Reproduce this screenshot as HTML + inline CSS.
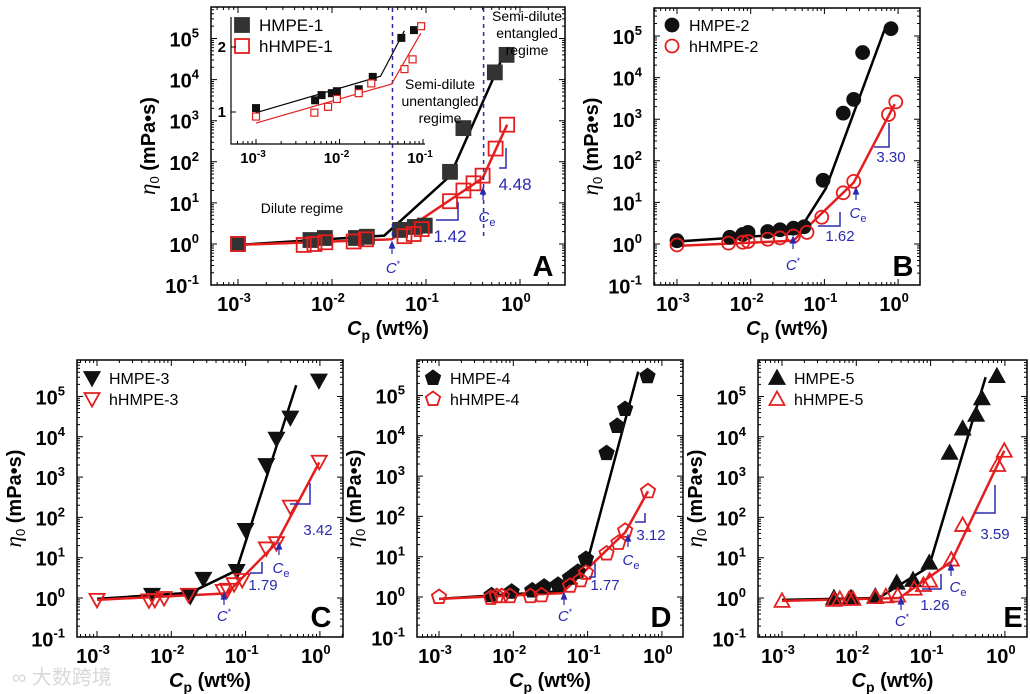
<!DOCTYPE html>
<html><head><meta charset="utf-8"><style>
html,body{margin:0;padding:0;background:#fff;width:1030px;height:694px;overflow:hidden}
svg{display:block;font-family:"Liberation Sans",Arial,sans-serif}
</style></head><body>
<svg id="fig" width="1030" height="694" viewBox="0 0 1030 694" xmlns="http://www.w3.org/2000/svg"></svg>
<script>
// ---- Panel A data ----
const aBlackX=[0.001,0.0059,0.0084,0.018,0.0235,0.053,0.076,0.097,0.18,0.25,0.54,0.72];
const aBlackY=[1.0,1.25,1.4,1.4,1.5,2.2,2.6,2.8,57,660,15000,40000];
const aRedX=[0.001,0.005,0.0065,0.0085,0.017,0.023,0.059,0.074,0.09,0.18,0.25,0.32,0.40,0.55,0.73];
const aRedY=[1.0,0.95,1.0,1.1,1.15,1.3,1.55,1.75,2.3,11,20,30,46,210,800];
const aBlackFitX=[0.001,0.036,0.18,0.7];
const aBlackFitY=[0.95,1.6,45,50000];
const aRedFitX=[0.001,0.043,0.4,0.73];
const aRedFitY=[0.95,1.3,40,800];
// inset (panel A)
const insBlackX=[0.001,0.0051,0.0061,0.0081,0.0093,0.017,0.025,0.055,0.078];
const insBlackY=[1.06,1.18,1.26,1.29,1.32,1.35,1.54,2.14,2.26];
const insRedX=[0.001,0.005,0.0073,0.0093,0.017,0.024,0.06,0.075,0.095];
const insRedY=[0.93,0.99,1.08,1.2,1.29,1.44,1.66,1.81,2.32];
const insBlackFitX=[0.001,0.031,0.06];
const insBlackFitY=[0.99,1.55,2.25];
const insRedFitX=[0.001,0.042,0.094];
const insRedFitY=[0.83,1.43,2.21];
// ---- Panel B ----
const bBlackX=[0.001,0.0052,0.0078,0.0092,0.017,0.025,0.038,0.053,0.096,0.18,0.25,0.33,0.8];
const bBlackY=[1.2,1.45,1.7,1.9,2.0,2.2,2.4,2.6,34,1400,3000,40000,150000];
const bRedX=[0.001,0.005,0.0078,0.0092,0.017,0.025,0.038,0.058,0.092,0.18,0.25,0.74,0.93];
const bRedY=[0.95,1.05,1.1,1.15,1.3,1.4,1.55,1.9,4.4,17,32,1300,2600];
const bBlackFitX=[0.001,0.043,0.105,0.68];
const bBlackFitY=[1.15,1.8,22,170000];
const bRedFitX=[0.001,0.038,0.25,0.9];
const bRedFitY=[0.9,1.2,30,2300];
// ---- Panel C ----
const cBlackX=[0.0055,0.018,0.027,0.076,0.1,0.19,0.26,0.4,0.97];
const cBlackY=[1.2,1.1,3,4.7,49,2000,9000,30000,250000];
const cRedX=[0.001,0.005,0.006,0.008,0.017,0.05,0.057,0.07,0.09,0.19,0.26,0.4,0.98];
const cRedY=[0.9,0.87,0.9,1.0,1.2,1.5,1.6,2.2,2.8,17,23,185,2400];
const cBlackFitX=[0.001,0.018,0.075,0.48];
const cBlackFitY=[0.95,1.35,4.8,190000];
const cRedFitX=[0.001,0.056,0.26,0.98];
const cRedFitY=[0.9,1.3,23,2300];
// ---- Panel D ----
const dBlackX=[0.0051,0.0095,0.018,0.026,0.04,0.058,0.074,0.095,0.18,0.25,0.32,0.64];
const dBlackY=[1.1,1.35,1.45,1.8,2.0,3.0,4.2,8.8,3700,17500,46000,300000];
const dRedX=[0.001,0.005,0.006,0.007,0.009,0.017,0.024,0.058,0.08,0.095,0.18,0.26,0.32,0.65];
const dRedY=[1.0,0.95,1.05,1.05,1.05,1.05,1.1,1.9,2.6,4,12,22,44,420];
const dBlackFitX=[0.001,0.045,0.1,0.48];
const dBlackFitY=[0.9,1.4,8,390000];
const dRedFitX=[0.001,0.045,0.32,0.65];
const dRedFitY=[0.9,1.25,40,420];
// ---- Panel E ----
const eBlackX=[0.005,0.0085,0.018,0.035,0.058,0.096,0.18,0.27,0.41,0.49,0.78];
const eBlackY=[1.0,1.0,1.1,2.4,2.8,7.5,4000,16000,35000,90000,320000];
const eRedX=[0.001,0.005,0.006,0.008,0.009,0.018,0.025,0.036,0.06,0.08,0.097,0.19,0.27,0.8,0.98];
const eRedY=[0.85,0.9,0.95,0.95,0.95,1.05,1.1,1.15,1.7,2.1,2.7,9,65,2000,4500];
const eBlackFitX=[0.001,0.02,0.095,0.55];
const eBlackFitY=[0.9,1.0,6,300000];
const eRedFitX=[0.001,0.038,0.19,0.98];
const eRedFitY=[0.85,1.0,8,4500];

const xTickExp=[-3,-2,-1,0];
const yTickExp=[-1,0,1,2,3,4,5];

const NS="http://www.w3.org/2000/svg";
const svg=document.getElementById('fig');
const BLUE="#2a2ab0", RED="#e41e1e";
function mk(tag,attrs,parent){const e=document.createElementNS(NS,tag);for(const k in attrs)e.setAttribute(k,attrs[k]);(parent||svg).appendChild(e);return e;}

function panel(cfg){
  const g=mk('g',{});
  
  
  const [L,T,R,B]=cfg.frame;
  const sx=v=>cfg.x0+(Math.log10(v)+3)*cfg.dx;
  const sy=v=>cfg.y0-Math.log10(v)*cfg.dy;
  const fr=mk('rect',{x:L,y:T,width:R-L,height:B-T,fill:'none',stroke:'#000','stroke-width':1.5},g);
  
  
  let tp='';
  for(let d=-4;d<=1;d++)for(let k=1;k<=9;k++){
    const x=cfg.x0+(d+3+Math.log10(k))*cfg.dx; if(x<=L+0.5||x>=R-0.5)continue;
    const l=k==1?6:3; tp+=`M${x},${B}v${-l}M${x},${T}v${l}`;
  }
  for(let d=-2;d<=6;d++)for(let k=1;k<=9;k++){
    const y=cfg.y0-(d+Math.log10(k))*cfg.dy; if(y<=T+0.5||y>=B-0.5)continue;
    const l=k==1?6:3; tp+=`M${L},${y}h${l}M${R},${y}h${-l}`;
  }
  const tk=mk('path',{d:tp,stroke:'#000','stroke-width':1,fill:'none'},g);
  
  
  xTickExp.forEach(e=>{
    const t=mk('text',{x:cfg.x0+(e+3)*cfg.dx-4,y:B+26,'text-anchor':'middle','font-size':20,'font-weight':'bold'},g);
    t.innerHTML=`10<tspan dy="-9" font-size="13">${e}</tspan>`;
    
    
  });
  yTickExp.forEach(e=>{
    const y=cfg.y0-e*cfg.dy; if(y<T)return;
    const t=mk('text',{x:L-12,y:y+8,'text-anchor':'end','font-size':20,'font-weight':'bold'},g);
    t.innerHTML=`10<tspan dy="-9" font-size="13">${e}</tspan>`;
    
    
  });
  const xt=mk('text',{x:(L+R)/2,y:B+50,'text-anchor':'middle','font-size':20,'font-weight':'bold'},g);
  xt.innerHTML='<tspan font-style="italic">C</tspan><tspan dy="5" font-size="14">p</tspan><tspan dy="-5"> (wt%)</tspan>';
  
  
  const yc=(T+B)/2, yx=L-56;
  const yt=mk('text',{x:yx,y:yc,'text-anchor':'middle','font-size':20,'font-weight':'bold',transform:`rotate(-90 ${yx} ${yc})`},g);
  yt.innerHTML='<tspan font-style="italic" font-weight="normal" font-family="Liberation Serif,serif" font-size="23">η</tspan><tspan dy="4" font-size="13" font-weight="normal">0</tspan><tspan dy="-4"> (mPa•s)</tspan>';
  
  
  const line=(xs,ys,col,name)=>{
    const p=mk('polyline',{points:xs.map((x,i)=>sx(x)+','+sy(ys[i])).join(' '),fill:'none',stroke:col,'stroke-width':2.5},g);
    
    
  };
  line(cfg.bfx,cfg.bfy,'#000','fit-line-'+cfg.bname);
  line(cfg.rfx,cfg.rfy,RED,'fit-line-'+cfg.rname);
  cfg.bx.forEach((x,i)=>marker(g,cfg.shape,sx(x),sy(cfg.by[i]),true,cfg.ms,'marker-'+cfg.bname));
  cfg.rx.forEach((x,i)=>marker(g,cfg.shape,sx(x),sy(cfg.ry[i]),false,cfg.ms,'marker-'+cfg.rname));
  const lx=cfg.leg[0],ly=cfg.leg[1];
  marker(g,cfg.shape,lx,ly,true,cfg.ms,'legend-marker-'+cfg.bname);
  marker(g,cfg.shape,lx,ly+21,false,cfg.ms,'legend-marker-'+cfg.rname);
  const l1=mk('text',{x:lx+17,y:ly+6,'font-size':cfg.lfs||16},g);l1.textContent=cfg.bname;
  
  
  const l2=mk('text',{x:lx+17,y:ly+27,'font-size':cfg.lfs||16},g);l2.textContent=cfg.rname;
  
  
  const pl=mk('text',{x:cfg.lab[0],y:cfg.lab[1],'text-anchor':'middle','font-size':29,'font-weight':'bold'},g);
  pl.textContent=cfg.id;
  
  
  cfg.slopes.forEach(s=>{
    const p=mk('path',{d:`M${s[0]},${s[3]}H${s[1]}V${s[2]}`,fill:'none',stroke:BLUE,'stroke-width':1.5},g);
    
    
    const t=mk('text',{x:s[4],y:s[5],'text-anchor':'middle','font-size':cfg.sfs||15,fill:BLUE},g);t.textContent=s[6];
    
    
  });
  cfg.arrows.forEach(a=>{
    const p=mk('path',{d:`M${a[0]},${a[1]+12}V${a[1]+2}M${a[0]-2.5},${a[1]+6}L${a[0]},${a[1]}L${a[0]+2.5},${a[1]+6}Z`,fill:BLUE,stroke:BLUE,'stroke-width':1.2},g);
    
    
    const t=mk('text',{x:a[2],y:a[3],'text-anchor':'middle','font-size':15,fill:BLUE},g);
    t.innerHTML=a[4]=='*'?'<tspan font-style="italic">C</tspan><tspan dy="-6" font-size="9">*</tspan>':'<tspan font-style="italic">C</tspan><tspan dy="4" font-size="11">e</tspan>';
    
    
  });
  return {g,sx,sy};
}
function marker(g,shape,x,y,filled,s,name){
  const fill=filled?'#111':'#fff', st=filled?'#111':RED;
  let e;
  if(shape=='sq') e=mk('rect',{x:x-s,y:y-s,width:2*s,height:2*s,fill:filled?'#333':'#fff','fill-opacity':filled?1:0,stroke:filled?'#333':RED,'stroke-width':1.8},g);
  else if(shape=='ci') e=mk('circle',{cx:x,cy:y,r:s,fill,'fill-opacity':filled?1:0,stroke:st,'stroke-width':1.8},g);
  else if(shape=='td') e=mk('polygon',{points:`${x-s},${y-s*0.8} ${x+s},${y-s*0.8} ${x},${y+s}`,fill,'fill-opacity':filled?1:0,stroke:st,'stroke-width':1.8},g);
  else if(shape=='tu') e=mk('polygon',{points:`${x-s},${y+s*0.8} ${x+s},${y+s*0.8} ${x},${y-s}`,fill,'fill-opacity':filled?1:0,stroke:st,'stroke-width':1.8},g);
  else { let p=[];for(let i=0;i<5;i++){const a=-Math.PI/2+i*2*Math.PI/5;p.push((x+s*Math.cos(a))+','+(y+s*Math.sin(a)));}
    e=mk('polygon',{points:p.join(' '),fill,'fill-opacity':filled?1:0,stroke:st,'stroke-width':1.8},g);}
  
  
}

// Panel A
const A=panel({id:'A',frame:[211,7,565,285],x0:238,dx:94,y0:244,dy:41.1,shape:'sq',ms:7,
  bx:aBlackX,by:aBlackY,rx:aRedX,ry:aRedY,bfx:aBlackFitX,bfy:aBlackFitY,rfx:aRedFitX,rfy:aRedFitY,
  bname:'HMPE-1',rname:'hHMPE-1',leg:[242,25],lab:[543,276],sfs:17,lfs:17,
  slopes:[[436,458,202,220,450,242,'1.42'],[499,506,148,168,515,190,'4.48']],
  arrows:[[392,242,393,273,'*'],[483,188,487,222,'e']]});
[[0.044,'c-star-divider'],[0.41,'c-e-divider']].forEach(d=>{
  const l=mk('line',{x1:A.sx(d[0]),x2:A.sx(d[0]),y1:8,y2:240,stroke:BLUE,'stroke-width':1.5,'stroke-dasharray':'4,4'},A.g);
  
  
});
[['Dilute regime',302,213,'dilute-regime-label'],['Semi-dilute',440,89,'semi-dilute-label'],['unentangled',440,106,'semi-dilute-label'],['regime',440,123,'semi-dilute-label'],
 ['Semi-dilute',527,21,'entangled-label'],['entangled',527,38,'entangled-label'],['regime',527,55,'entangled-label']].forEach(t=>{
  const e=mk('text',{x:t[1],y:t[2],'text-anchor':'middle','font-size':14},A.g);e.textContent=t[0];
  
  
});
(function(){
  const g=A.g;
  const ix=v=>256+(Math.log10(v)+3)*83.5, iy=v=>112-(v-1)*65;
  const ax=mk('path',{d:'M231,17V144H425',fill:'none',stroke:'#000','stroke-width':1.2},g);
  
  
  let tp='';
  for(let d=-4;d<=-1;d++)for(let k=1;k<=9;k++){const x=256+(d+3+Math.log10(k))*83.5;if(x<232||x>425)continue;tp+=`M${x},144v${k==1?-5:-3}`;}
  [1,2].forEach(v=>tp+=`M231,${iy(v)}h5`);
  const tk=mk('path',{d:tp,stroke:'#000','stroke-width':1,fill:'none'},g);
  
  
  [-3,-2,-1].forEach(e=>{const t=mk('text',{x:256+(e+3)*83.5-3,y:163,'text-anchor':'middle','font-size':15,'font-weight':'bold'},g);
    t.innerHTML=`10<tspan dy="-6" font-size="10">${e}</tspan>`;
    
    });
  [1,2].forEach(v=>{const t=mk('text',{x:226,y:iy(v)+5,'text-anchor':'end','font-size':15,'font-weight':'bold'},g);t.textContent=v;
    
    });
  const p1=mk('polyline',{points:insBlackFitX.map((x,i)=>ix(x)+','+iy(insBlackFitY[i])).join(' '),fill:'none',stroke:'#000','stroke-width':1.2},g);
  
  
  const p2=mk('polyline',{points:insRedFitX.map((x,i)=>ix(x)+','+iy(insRedFitY[i])).join(' '),fill:'none',stroke:RED,'stroke-width':1.2},g);
  
  
  insBlackX.forEach((x,i)=>{const r=mk('rect',{x:ix(x)-4,y:iy(insBlackY[i])-4,width:8,height:8,fill:'#111'},g);
    
    });
  insRedX.forEach((x,i)=>{const r=mk('rect',{x:ix(x)-3.5,y:iy(insRedY[i])-3.5,width:7,height:7,fill:'#fff',stroke:RED,'stroke-width':1.2},g);
    
    });
})();
panel({id:'B',frame:[654,8,920,285],x0:677,dx:73.7,y0:244,dy:41.6,shape:'ci',ms:6.5,
  bx:bBlackX,by:bBlackY,rx:bRedX,ry:bRedY,bfx:bBlackFitX,bfy:bBlackFitY,rfx:bRedFitX,rfy:bRedFitY,
  bname:'HMPE-2',rname:'hHMPE-2',leg:[672,25],lab:[903,276],
  slopes:[[818,840,212,226,840,241,'1.62'],[874,889,123,147,891,162,'3.30']],
  arrows:[[793,237,793,270,'*'],[856,188,858,218,'e']]});
panel({id:'C',frame:[77,360,343,637],x0:97,dx:74.3,y0:598,dy:40.3,shape:'td',ms:7.5,
  bx:cBlackX,by:cBlackY,rx:cRedX,ry:cRedY,bfx:cBlackFitX,bfy:cBlackFitY,rfx:cRedFitX,rfy:cRedFitY,
  bname:'HMPE-3',rname:'hHMPE-3',leg:[92,378],lab:[321,627],
  slopes:[[250,262,562,573,263,590,'1.79'],[290,310,483,504,318,535,'3.42']],
  arrows:[[224,593,224,621,'*'],[279,543,281,573,'e']]});
panel({id:'D',frame:[417,360,683,637],x0:439,dx:74.3,y0:597,dy:40.3,shape:'pe',ms:7.5,
  bx:dBlackX,by:dBlackY,rx:dRedX,ry:dRedY,bfx:dBlackFitX,bfy:dBlackFitY,rfx:dRedFitX,rfy:dRedFitY,
  bname:'HMPE-4',rname:'hHMPE-4',leg:[433,378],lab:[661,627],
  slopes:[[589,595,563,577,605,590,'1.77'],[635,645,513,522,651,540,'3.12']],
  arrows:[[564,593,565,621,'*'],[628,535,631,565,'e']]});
panel({id:'E',frame:[758,360,1027,637],x0:782,dx:74.3,y0:598,dy:40.3,shape:'tu',ms:7.5,
  bx:eBlackX,by:eBlackY,rx:eRedX,ry:eRedY,bfx:eBlackFitX,bfy:eBlackFitY,rfx:eRedFitX,rfy:eRedFitY,
  bname:'HMPE-5',rname:'hHMPE-5',leg:[777,378],lab:[1013,627],
  slopes:[[922,941,574,589,935,610,'1.26'],[975,995,485,513,995,539,'3.59']],
  arrows:[[901,598,902,626,'*'],[951,564,958,592,'e']]});
const wm=mk('text',{x:12,y:684,'font-size':20,fill:'#d8d8d8','font-family':'"Liberation Sans","Noto Sans CJK SC",sans-serif'});
wm.textContent='∞ 大数跨境';


</script>
</body></html>
